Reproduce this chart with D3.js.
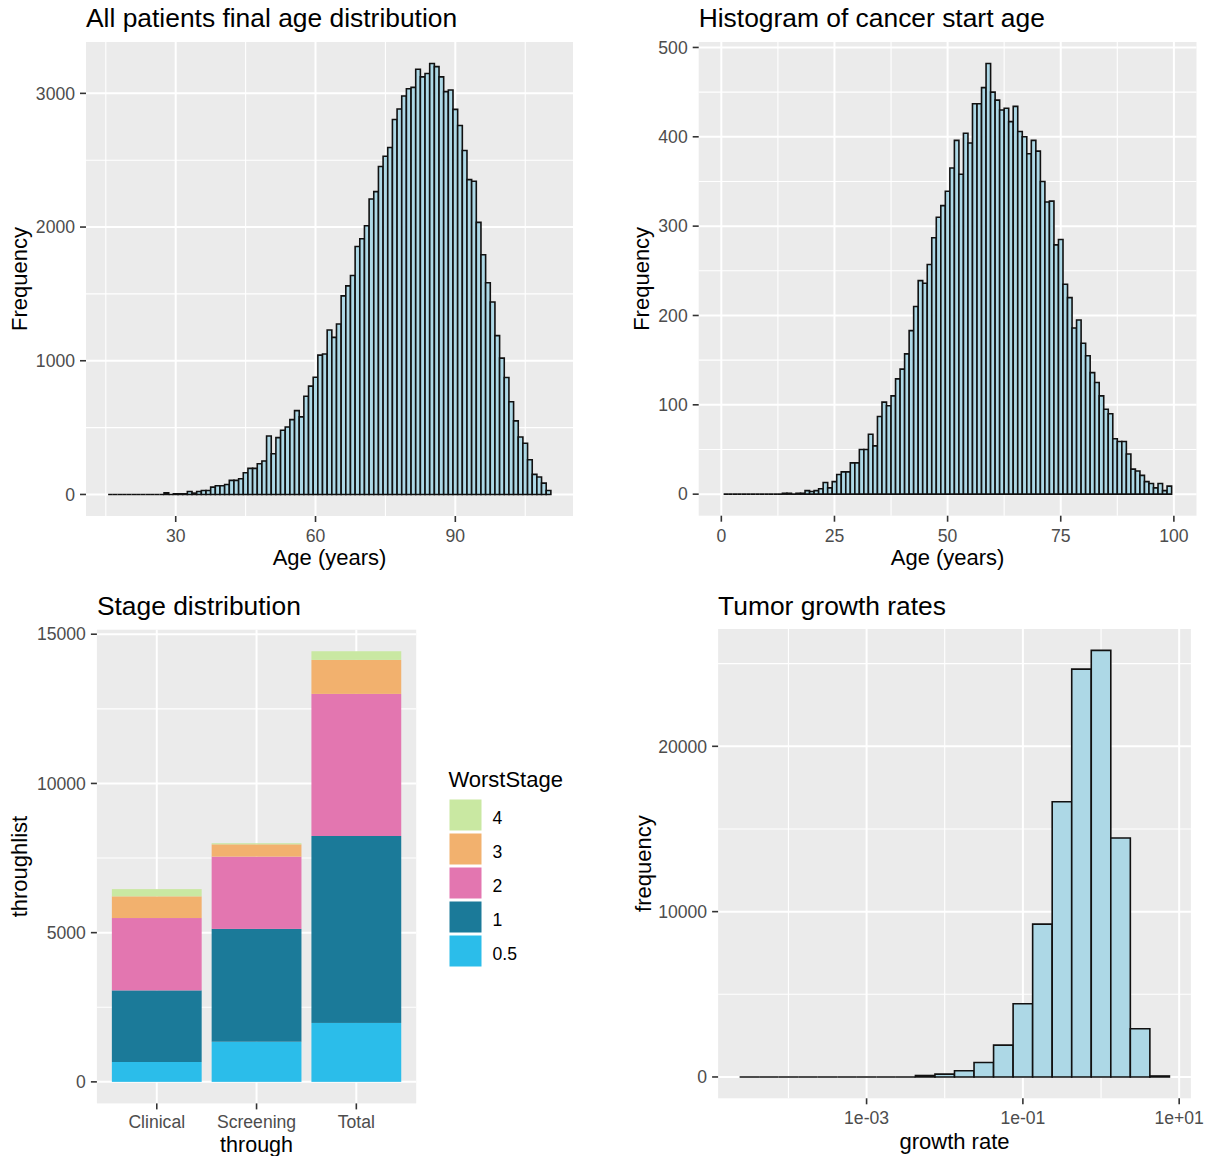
<!DOCTYPE html>
<html><head><meta charset="utf-8">
<script src="https://cdn.jsdelivr.net/npm/d3@7"></script>
<style>body{margin:0;background:#fff}svg{display:block;font-family:"Liberation Sans",Arial,sans-serif}</style>
</head><body><svg id="c" width="1207" height="1156"></svg>
<script>
// ---------- DATA ----------
// Panel 1: final age histogram, bins of width 1 centred on these ages
const finalAgeCentres = d3.range(16, 111);
const finalAgeCounts = [0,0,0,0,0,0,0,0,0,0,0,0,
  12,0,5,5,5,22,10,22,30,30,55,65,65,75,105,105,118,162,195,195,230,250,437,305,
  425,480,505,560,627,580,735,810,877,1042,1050,1230,1175,1275,1485,1560,1638,1855,1913,2010,
  2210,2265,2453,2530,2595,2805,2883,2980,3035,3045,3180,3123,3148,3223,3200,3123,3013,3025,
  2880,2760,2573,2355,2343,2035,1793,1583,1440,1188,1020,875,693,550,430,383,260,150,130,85,30];
const finalAgeXTicks = [30, 60, 90];
const finalAgeYTicks = [0, 1000, 2000, 3000];

// Panel 2: cancer start age histogram, bins of width 1 centred on these ages
const startAgeCentres = d3.range(1, 100);
const startAgeCounts = [0,0,0,0,0,0,0,0,0,0,0,0,0,
  1,1,0,1,1,4,3,4,6,13,7,14,22,25,25,35,35,50,50,67,54,87,103,99,110,129,140,157,183,210,
  239,236,257,287,310,323,339,365,396,358,404,393,437,437,455,482,450,441,430,432,417,434,
  406,400,381,396,384,350,327,328,279,285,235,220,186,195,169,155,136,125,110,95,90,62,59,59,
  45,28,26,21,14,12,7,12,4,9];
const startAgeXTicks = [0, 25, 50, 75, 100];
const startAgeYTicks = [0, 100, 200, 300, 400, 500];

// Panel 3: stage distribution
const throughCats = ["Clinical", "Screening", "Total"];
const stageLevels = ["0.5", "1", "2", "3", "4"];
const stageClinical  = [666, 2400, 2424, 727, 242];
const stageScreening = [1345, 3780, 2423, 412, 37];
const stageTotal     = [1975, 6264, 4761, 1139, 291];
const stageColors = ["#2BBDEA", "#1B7A99", "#E376B0", "#F2B16E", "#C9E8A2"];
const stageYTicks = [0, 5000, 10000, 15000];

// Panel 4: tumour growth rates, log10 bin left edges (width 0.25)
const growthLogLeft = d3.range(0, 22).map(i => -4.625 + 0.25 * i);
const growthCounts = [0,0,0,0,0,0,0,0,0,88,175,372,876,1928,4425,9244,16649,24666,25805,14458,2913,60];
const growthXTicks = [1e-3, 1e-1, 1e1];
const growthXLabels = ["1e-03", "1e-01", "1e+01"];
const growthYTicks = [0, 10000, 20000];

// ---------- DRAW ----------
const svg = d3.select("#c");
svg.append("rect").attr("width", 1207).attr("height", 1156).attr("fill", "#fff");
const PANEL = "#EBEBEB", TICKC = "#333333", LABC = "#4D4D4D";

function frame(p, x, y, xMaj, xMin, yMaj, yMin) {
  const g = svg.append("g");
  g.append("rect").attr("x", p.l).attr("y", p.t).attr("width", p.r - p.l).attr("height", p.b - p.t).attr("fill", PANEL);
  g.selectAll(".ymin").data(yMin).join("line").attr("x1", p.l).attr("x2", p.r)
    .attr("y1", d => y(d)).attr("y2", d => y(d)).attr("stroke", "#fff").attr("stroke-width", 1.1);
  g.selectAll(".xmin").data(xMin).join("line").attr("y1", p.t).attr("y2", p.b)
    .attr("x1", d => x(d)).attr("x2", d => x(d)).attr("stroke", "#fff").attr("stroke-width", 1.1);
  g.selectAll(".ymaj").data(yMaj).join("line").attr("x1", p.l).attr("x2", p.r)
    .attr("y1", d => y(d)).attr("y2", d => y(d)).attr("stroke", "#fff").attr("stroke-width", 2);
  g.selectAll(".xmaj").data(xMaj).join("line").attr("y1", p.t).attr("y2", p.b)
    .attr("x1", d => x(d)).attr("x2", d => x(d)).attr("stroke", "#fff").attr("stroke-width", 2);
  return g;
}
function axes(p, x, y, xTicks, xLabels, yTicks, yLabels, xLabY) {
  const g = svg.append("g");
  g.selectAll(".yt").data(yTicks).join("line").attr("x1", p.l - 6).attr("x2", p.l)
    .attr("y1", d => y(d)).attr("y2", d => y(d)).attr("stroke", TICKC).attr("stroke-width", 1.6);
  g.selectAll(".yl").data(yTicks).join("text").attr("x", p.l - 11).attr("y", d => y(d) + 6.2)
    .attr("text-anchor", "end").attr("font-size", 17.6).attr("fill", LABC).text((d, i) => yLabels[i]);
  g.selectAll(".xt").data(xTicks).join("line").attr("y1", p.b).attr("y2", p.b + 6)
    .attr("x1", d => x(d)).attr("x2", d => x(d)).attr("stroke", TICKC).attr("stroke-width", 1.6);
  g.selectAll(".xl").data(xTicks).join("text").attr("x", d => x(d)).attr("y", xLabY)
    .attr("text-anchor", "middle").attr("font-size", 17.6).attr("fill", LABC).text((d, i) => xLabels[i]);
}
function titles(p, title, titleY, xt, xtY, yt, ytX, xtSize) {
  svg.append("text").attr("x", p.l).attr("y", titleY).attr("font-size", 26.4).attr("fill", "#000").text(title);
  svg.append("text").attr("x", (p.l + p.r) / 2).attr("y", xtY).attr("text-anchor", "middle")
    .attr("font-size", xtSize || 22).attr("fill", "#000").text(xt);
  svg.append("text").attr("transform", `translate(${ytX},${(p.t + p.b) / 2}) rotate(-90)`)
    .attr("text-anchor", "middle").attr("font-size", 22).attr("fill", "#000").text(yt);
}
function hist(x0s, x1s, vals, x, y) {
  svg.append("g").selectAll("path").data(vals).join("path")
    .attr("d", (v, i) => {
      const a = x(x0s[i]), b = x(x1s[i]), z = y(0), h = y(v);
      return `M${a},${z}V${h}H${b}V${z}Z`;
    })
    .attr("fill", "#ADD8E6").attr("stroke", "#111").attr("stroke-width", 1.6).attr("stroke-linejoin", "miter");
}

// ---- Panel 1 ----
{
  const p = {l: 86, r: 573, t: 42, b: 516};
  const lo = finalAgeCentres[0] - 0.5, hi = finalAgeCentres[finalAgeCentres.length - 1] + 0.5;
  const x = d3.scaleLinear().domain([lo - 0.05 * (hi - lo), hi + 0.05 * (hi - lo)]).range([p.l, p.r]);
  const m = d3.max(finalAgeCounts);
  const y = d3.scaleLinear().domain([-0.05 * m, 1.05 * m]).range([p.b, p.t]);
  frame(p, x, y, finalAgeXTicks, [15, 45, 75, 105], finalAgeYTicks, [500, 1500, 2500]);
  hist(finalAgeCentres.map(c => c - 0.5), finalAgeCentres.map(c => c + 0.5), finalAgeCounts, x, y);
  axes(p, x, y, finalAgeXTicks, finalAgeXTicks.map(String), finalAgeYTicks, finalAgeYTicks.map(String), 542);
  titles(p, "All patients final age distribution", 27, "Age (years)", 565, "Frequency", 27);
}
// ---- Panel 2 ----
{
  const p = {l: 698.7, r: 1196.5, t: 42, b: 515.7};
  const x = d3.scaleLinear().domain([-5, 105]).range([p.l, p.r]);
  const m = d3.max(startAgeCounts);
  const y = d3.scaleLinear().domain([-0.05 * m, 1.05 * m]).range([p.b, p.t]);
  frame(p, x, y, startAgeXTicks, [12.5, 37.5, 62.5, 87.5], startAgeYTicks, [50, 150, 250, 350, 450]);
  hist(startAgeCentres.map(c => c - 0.5), startAgeCentres.map(c => c + 0.5), startAgeCounts, x, y);
  axes(p, x, y, startAgeXTicks, startAgeXTicks.map(String), startAgeYTicks, startAgeYTicks.map(String), 542);
  titles(p, "Histogram of cancer start age", 27, "Age (years)", 565, "Frequency", 649);
}
// ---- Panel 3 ----
{
  const p = {l: 96.9, r: 416.2, t: 629.7, b: 1103.4};
  const series = [stageClinical, stageScreening, stageTotal];
  const rows = throughCats.map((c, i) => {
    const o = {cat: c};
    stageLevels.forEach((s, j) => o[s] = series[i][j]);
    return o;
  });
  const stack = d3.stack().keys(stageLevels)(rows);
  const m = d3.max(rows, r => d3.sum(stageLevels, s => r[s]));
  const x = d3.scaleBand().domain(throughCats).range([p.l, p.r]).paddingInner(0.1).paddingOuter(0.15);
  const y = d3.scaleLinear().domain([-0.05 * m, 1.05 * m]).range([p.b, p.t]);
  const xc = c => x(c) + x.bandwidth() / 2;
  frame(p, xc, y, throughCats, [], stageYTicks, [2500, 7500, 12500]);
  const col = d3.scaleOrdinal().domain(stageLevels).range(stageColors);
  svg.append("g").selectAll("g").data(stack).join("g").attr("fill", d => col(d.key))
    .selectAll("rect").data(d => d).join("rect")
    .attr("x", d => x(d.data.cat)).attr("width", x.bandwidth())
    .attr("y", d => y(d[1])).attr("height", d => y(d[0]) - y(d[1]));
  axes(p, xc, y, throughCats, throughCats, stageYTicks, stageYTicks.map(String), 1127.5);
  titles(p, "Stage distribution", 614.5, "through", 1151.5, "throughlist", 27, 21.5);
  // legend
  const lg = svg.append("g");
  lg.append("text").attr("x", 448.4).attr("y", 786.8).attr("font-size", 22).attr("fill", "#000").text("WorstStage");
  const order = stageLevels.slice().reverse();
  const key = d3.scaleBand().domain(order).range([798, 798 + 34 * order.length]);
  lg.selectAll("rect").data(order).join("rect")
    .attr("x", 449.5).attr("y", d => key(d) + 1.5).attr("width", 32).attr("height", 31)
    .attr("fill", d => col(d));
  lg.selectAll("text.l").data(order).join("text").attr("class", "l")
    .attr("x", 492.5).attr("y", d => key(d) + 17 + 9).attr("font-size", 17.6).attr("fill", "#000").text(d => d);
}
// ---- Panel 4 ----
{
  const p = {l: 718.1, r: 1190.9, t: 629, b: 1098.3};
  const lo = growthLogLeft[0], hi = growthLogLeft[growthLogLeft.length - 1] + 0.25;
  const x = d3.scaleLog().domain([Math.pow(10, lo - 0.05 * (hi - lo)), Math.pow(10, hi + 0.05 * (hi - lo))]).range([p.l, p.r]);
  const m = d3.max(growthCounts);
  const y = d3.scaleLinear().domain([-0.05 * m, 1.05 * m]).range([p.b, p.t]);
  frame(p, x, y, growthXTicks, [1e-4, 1e-2, 1], growthYTicks, [5000, 15000, 25000]);
  hist(growthLogLeft.map(l => Math.pow(10, l)), growthLogLeft.map(l => Math.pow(10, l + 0.25)), growthCounts, x, y);
  axes(p, x, y, growthXTicks, growthXLabels, growthYTicks, growthYTicks.map(String), 1123.5);
  titles(p, "Tumor growth rates", 614.5, "growth rate", 1149, "frequency", 651);
}
</script></body></html>
